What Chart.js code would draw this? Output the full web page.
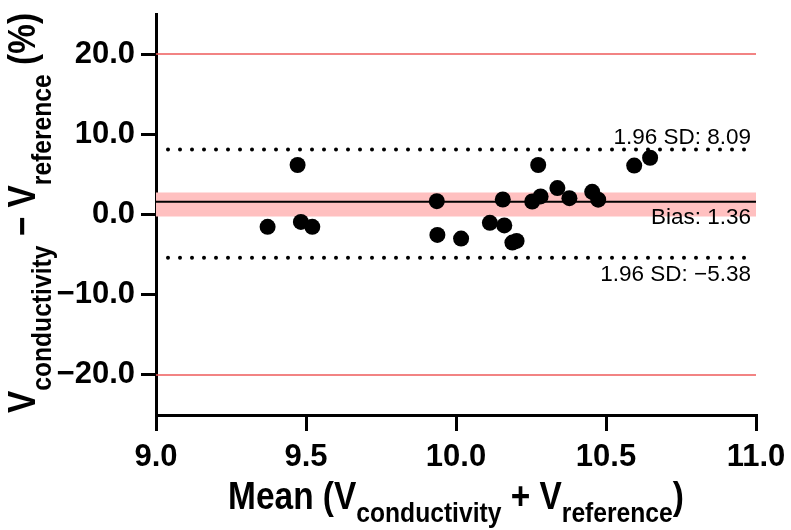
<!DOCTYPE html>
<html>
<head>
<meta charset="utf-8">
<script src="https://cdn.jsdelivr.net/npm/chart.js@4"></script>
<style>
  html, body { margin: 0; padding: 0; background: #fff; }
  #wrap { width: 791px; height: 530px; position: relative; }
</style>
</head>
<body>
<div id="wrap"><canvas id="chart"></canvas></div>
<script>
// means (x) and differences (y)
const meanX = [9.372, 9.472, 9.483, 9.521, 9.936, 9.938, 10.017, 10.113, 10.156, 10.161,
  10.188, 10.202, 10.254, 10.274, 10.282, 10.338, 10.378, 10.454, 10.474, 10.594, 10.647];
const diffY = [-1.54, 6.17, -0.92, -1.54, 1.66, -2.55, -3.0, -1.04, 1.87, -1.36,
  -3.5, -3.3, 1.62, 6.17, 2.25, 3.3, 2.04, 2.83, 1.85, 6.1, 7.08];

const xTicks = [9.0, 9.5, 10.0, 10.5, 11.0];
const yTicks = [-20, -10, 0, 10, 20];
const xRange = [9, 11];
const yRange = [-25, 25];

const upperLoA = 8.09;
const lowerLoA = -5.38;
const bias = 1.36;
const biasLine = 1.6;
const biasBand = [-0.25, 2.75];
const outerLimits = [20, -20];

const labelFont = "'Liberation Sans', Arial, sans-serif";

function hline(v, extra) {
  return Object.assign({
    type: "line",
    data: [{ x: xRange[0], y: v }, { x: xRange[1], y: v }],
    pointRadius: 0,
    fill: false,
  }, extra);
}

// draws text made of pieces with different sizes / baseline shifts
function drawRich(ctx, parts, cx, baseline, squeeze) {
  let total = 0;
  parts.forEach(p => {
    ctx.font = "bold " + p.size + "px " + labelFont;
    p.w = ctx.measureText(p.t).width * squeeze;
    total += p.w;
  });
  let x = cx - total / 2;
  ctx.textBaseline = "alphabetic";
  ctx.textAlign = "left";
  parts.forEach(p => {
    ctx.save();
    ctx.font = "bold " + p.size + "px " + labelFont;
    ctx.translate(x, baseline + (p.dy || 0));
    ctx.scale(squeeze, 1);
    ctx.fillText(p.t, 0, 0);
    ctx.restore();
    x += p.w;
  });
}

const annotate = {
  id: "annotate",
  afterDraw(chart) {
    const ctx = chart.ctx;
    const x = chart.scales.x, y = chart.scales.y;
    const a = chart.chartArea;
    ctx.save();
    ctx.fillStyle = "#000";

    // line labels
    ctx.font = "22.5px " + labelFont;
    ctx.textAlign = "right";
    ctx.textBaseline = "alphabetic";
    const rx = x.getPixelForValue(xRange[1]) - 5;
    ctx.fillText("1.96 SD: " + upperLoA.toFixed(2), rx, y.getPixelForValue(upperLoA) - 6);
    ctx.fillText("Bias: " + bias.toFixed(2), rx, y.getPixelForValue(biasLine) + 22);
    ctx.fillText("1.96 SD: \u2212" + Math.abs(lowerLoA).toFixed(2), rx, y.getPixelForValue(lowerLoA) + 23);

    // x title
    const main = 38, sub = 28, sq = 0.88;
    drawRich(ctx, [
      { t: "Mean (V", size: main },
      { t: "conductivity", size: sub, dy: 13 },
      { t: " + V", size: main },
      { t: "reference", size: sub, dy: 13 },
      { t: ")", size: main },
    ], (a.left + a.right) / 2, 509, sq);

    // y title
    ctx.save();
    ctx.translate(35, 213);
    ctx.rotate(-Math.PI / 2);
    drawRich(ctx, [
      { t: "V", size: main },
      { t: "conductivity", size: sub, dy: 16 },
      { t: " \u2212 V", size: main },
      { t: "reference", size: sub, dy: 16 },
      { t: " (%)", size: main },
    ], 0, 0, sq);
    ctx.restore();

    ctx.restore();
  }
};

new Chart(document.getElementById("chart"), {
  type: "scatter",
  data: {
    datasets: [
      {
        type: "scatter",
        data: meanX.map((v, i) => ({ x: v, y: diffY[i] })),
        backgroundColor: "#000",
        borderWidth: 0,
        pointRadius: 8,
        pointHoverRadius: 8,
        order: 1,
      },
      hline(biasLine, { borderColor: "#000", borderWidth: 2, order: 2 }),
      hline(upperLoA, { borderColor: "#000", borderWidth: 4, borderDash: [0, 12], borderCapStyle: "round", order: 3 }),
      hline(lowerLoA, { borderColor: "#000", borderWidth: 4, borderDash: [0, 12], borderCapStyle: "round", order: 3 }),
      hline(outerLimits[0], { borderColor: "#ee5a5a", borderWidth: 1.5, order: 4 }),
      hline(outerLimits[1], { borderColor: "#ee5a5a", borderWidth: 1.5, order: 4 }),
      hline(biasBand[1], { borderWidth: 0, backgroundColor: "#ffc0c0", fill: { value: biasBand[0] }, order: 5 }),
    ],
  },
  options: {
    responsive: true,
    maintainAspectRatio: false,
    animation: false,
    layout: { padding: { left: 0, right: 35, top: 14, bottom: 0 } },
    plugins: {
      legend: { display: false },
      tooltip: { enabled: false },
      title: { display: false },
    },
    scales: {
      x: {
        type: "linear",
        min: xRange[0],
        max: xRange[1],
        afterBuildTicks: s => { s.ticks = xTicks.map(v => ({ value: v })); },
        afterFit: s => { s.height = 115; s.paddingLeft = 0; s.paddingRight = 0; },
        border: { color: "#000", width: 3 },
        grid: { drawOnChartArea: false, drawTicks: true, tickLength: 16, color: "#000", lineWidth: 3 },
        ticks: {
          color: "#000",
          padding: 8,
          font: { family: labelFont, size: 31, weight: "bold" },
          callback: v => v.toFixed(1),
        },
      },
      y: {
        type: "linear",
        min: yRange[0],
        max: yRange[1],
        afterBuildTicks: s => { s.ticks = yTicks.map(v => ({ value: v })); },
        afterFit: s => { s.width = 156; s.paddingTop = 0; s.paddingBottom = 0; },
        border: { color: "#000", width: 3 },
        grid: { drawOnChartArea: false, drawTicks: true, tickLength: 15, color: "#000", lineWidth: 3 },
        ticks: {
          color: "#000",
          padding: 6,
          font: { family: labelFont, size: 31, weight: "bold" },
          callback: v => (v < 0 ? "\u2212" : "") + Math.abs(v).toFixed(1),
        },
      },
    },
  },
  plugins: [annotate],
});
</script>
</body>
</html>
